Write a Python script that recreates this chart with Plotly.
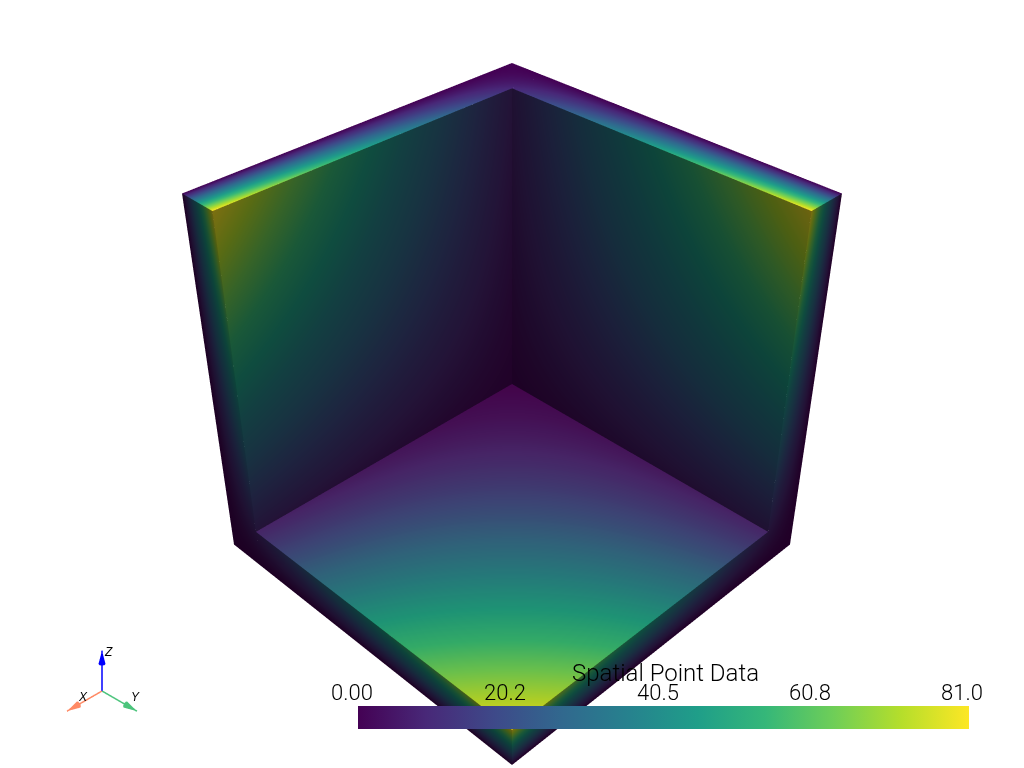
import numpy as np
import plotly.graph_objects as go
from plotly.colors import sequential, hex_to_rgb

# node positions along the box edges
along = [1, 3, 5, 7, 9]
rim_along = [0, 1, 3, 5, 7, 9]
across = [0, 1]

# colour values at the nodes
inner_vals = [[1, 3, 5, 7, 9],
              [3, 9, 15, 21, 27],
              [5, 15, 25, 35, 45],
              [7, 21, 35, 49, 63],
              [9, 27, 45, 63, 81]]
rim_vals = [[0, 0, 0, 0, 0, 0],
            [0, 9, 27, 45, 63, 81]]
edge_vals = [[0, 0, 0, 0, 0],
             [9, 27, 45, 63, 81]]

bar_ticks = ["0.00", "20.2", "40.5", "60.8", "81.0"]
bar_tick_px = [352, 505, 658, 810, 962]
bar_title = "Spatial Point Data"

# plotly has a fixed 45 deg lens, the reference looks like 30 deg,
# so depth along the view axis gets squashed to get the same picture
squash = 0.6433
view = np.ones(3) / np.sqrt(3)
eye_k = 0.5644

# light tint (r, g, b) by which way a face points, the light is a bit warm
light_up = (0.97, 0.93, 0.85)
light_x = (0.43, 0.43, 0.42)
light_y = (0.49, 0.48, 0.46)


def tinted(light):
    stops = sequential.Viridis
    out = []
    for i, col in enumerate(stops):
        r, g, b = hex_to_rgb(col)
        out.append([i / (len(stops) - 1), f"rgb({r * light[0]:.0f},{g * light[1]:.0f},{b * light[2]:.0f})"])
    return out


def face(fig, xs, ys, zs, vals, light):
    X, Y, Z = np.meshgrid(xs, ys, zs, indexing="ij")
    X, Y, Z = [np.squeeze(a) - 4.5 for a in (X, Y, Z)]
    depth = (X * view[0] + Y * view[1] + Z * view[2]) * (1 - squash)
    c = np.array(vals)
    if c.shape != X.shape:
        c = c.T
    fig.add_trace(go.Surface(
        x=X - depth * view[0], y=Y - depth * view[1], z=Z - depth * view[2],
        surfacecolor=c, colorscale=tinted(light), cmin=0, cmax=81, showscale=False, hoverinfo="skip",
        lighting=dict(ambient=1, diffuse=0, specular=0, roughness=1, fresnel=0),
    ))


fig = go.Figure()

# floor and the two inner walls
face(fig, along, along, [1], inner_vals, light_up)
face(fig, [1], along, along, inner_vals, light_x)
face(fig, along, [1], along, inner_vals, light_y)
# top of the walls
face(fig, rim_along, across, [9], rim_vals, (1, 1, 1))
face(fig, across, along, [9], edge_vals, (1, 1, 1))
# outer cut faces
face(fig, [9], across, rim_along, rim_vals, light_x)
face(fig, across, [9], rim_along, rim_vals, light_y)
face(fig, [9], along, across, edge_vals, light_x)
face(fig, along, [9], across, edge_vals, light_y)

# the bar itself, from an invisible marker so the faces can keep their tints
fig.add_trace(go.Scatter3d(
    x=[0], y=[0], z=[0], mode="markers", hoverinfo="skip", showlegend=False,
    marker=dict(size=0.1, opacity=0, color=[0], coloraxis="coloraxis"),
))

# orientation widget
widget_tips = {"x": [1, 0, 0], "y": [0, 1, 0], "z": [0, 0, 1]}
widget_colors = {"x": "#ff8a65", "y": "#4cc47c", "z": "#0000ff"}
for name, tip in widget_tips.items():
    fig.add_trace(go.Scatter3d(
        x=[0, tip[0]], y=[0, tip[1]], z=[0, tip[2]], mode="lines", scene="scene2",
        line=dict(color=widget_colors[name], width=3), hoverinfo="skip", showlegend=False,
    ))
    fig.add_trace(go.Cone(
        x=[tip[0]], y=[tip[1]], z=[tip[2]], u=[tip[0]], v=[tip[1]], w=[tip[2]],
        scene="scene2", anchor="tip", sizemode="absolute", sizeref=0.3, showscale=False,
        colorscale=[[0, widget_colors[name]], [1, widget_colors[name]]], hoverinfo="skip",
        lighting=dict(ambient=1, diffuse=0, specular=0, roughness=1, fresnel=0),
    ))

hidden = dict(visible=False, range=[-10, 10])
small = dict(visible=False, range=[-1.02, 1.02])
tick_font = dict(size=22, color="black", family="Roboto", weight=300)
title_font = dict(size=24, color="black", family="Roboto", weight=300)

annotations = [dict(text=t, x=p / 1024, y=1 - 692 / 768, xref="paper", yref="paper",
                    xanchor="center", yanchor="middle", showarrow=False, font=tick_font)
               for t, p in zip(bar_ticks, bar_tick_px)]
annotations.append(dict(text=bar_title, x=665 / 1024, y=1 - 673 / 768, xref="paper", yref="paper",
                        xanchor="center", yanchor="middle", showarrow=False, font=title_font))
for label, px, py in [("X", 83, 697), ("Y", 135, 697), ("Z", 108, 652)]:
    annotations.append(dict(text="<i>" + label + "</i>", x=px / 1024, y=1 - py / 768, xref="paper",
                            yref="paper", xanchor="center", yanchor="middle", showarrow=False,
                            font=dict(size=12, color="black", family="Liberation Sans")))

fig.update_layout(
    width=1024, height=768, margin=dict(l=0, r=0, t=0, b=0),
    paper_bgcolor="white", showlegend=False,
    coloraxis=dict(colorscale="Viridis", cmin=0, cmax=81, colorbar=dict(
        orientation="h", lenmode="pixels", len=611, thicknessmode="pixels", thickness=23,
        x=358 / 1024, xanchor="left", xpad=0, y=39 / 768, yanchor="bottom", ypad=0,
        outlinewidth=0, showticklabels=False, ticks="",
    )),
    scene=dict(
        domain=dict(x=[0, 1], y=[0, 1]), xaxis=hidden, yaxis=hidden, zaxis=hidden,
        aspectmode="manual", aspectratio=dict(x=1, y=1, z=1), bgcolor="white",
        camera=dict(eye=dict(x=eye_k, y=eye_k, z=eye_k), center=dict(x=0, y=0, z=0),
                    up=dict(x=0, y=0, z=1)),
    ),
    scene2=dict(
        domain=dict(x=[27 / 1024, 177 / 1024], y=[2 / 768, 152 / 768]),
        xaxis=small, yaxis=small, zaxis=small, aspectmode="cube",
        bgcolor="rgba(0,0,0,0)",
        camera=dict(eye=dict(x=1.2, y=1.2, z=1.2)),
    ),
    annotations=annotations,
)

# page has a default body margin that would push the figure off centre
fig.write_html("out.html", config=dict(displayModeBar=False),
               post_script="document.body.style.margin='0';")
